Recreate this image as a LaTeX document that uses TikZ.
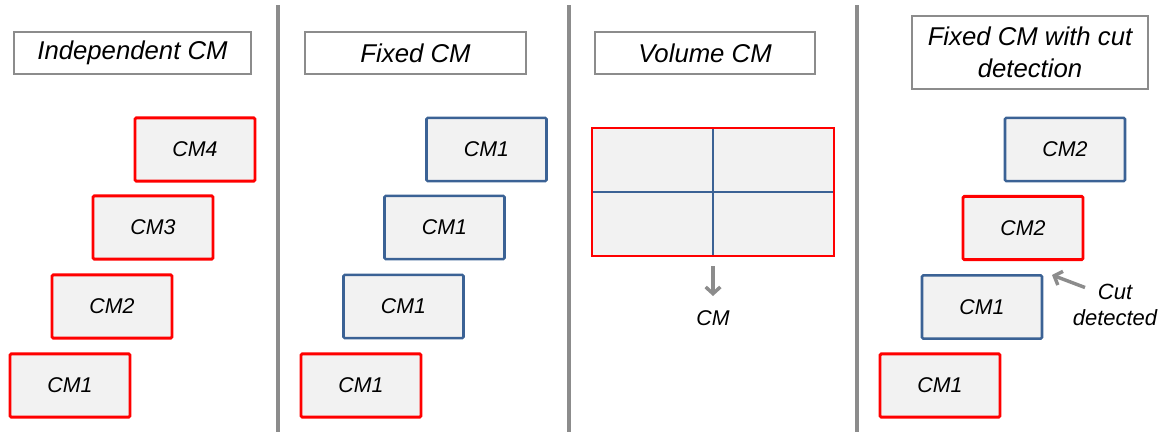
\documentclass[tikz,border=0pt]{standalone}
\usepackage{fontspec}
\setmainfont{Liberation Sans}
\usetikzlibrary{arrows.meta}
\definecolor{cmred}{HTML}{FF0000}
\definecolor{cmblue}{HTML}{3B6295}
\definecolor{cmfill}{HTML}{F2F2F2}
\definecolor{sepgray}{HTML}{8C8C8C}
\definecolor{titlegray}{HTML}{8C8C8C}
\begin{document}
\begin{tikzpicture}[x=0.75pt,y=-0.75pt,
  every node/.style={font=\fontsize{16}{19}\selectfont\itshape, inner sep=0pt, outer sep=0pt},
  cmbox/.style={draw, fill=cmfill, rounded corners=1pt, minimum width=90pt, minimum height=47.5pt},
  redbox/.style={cmbox, draw=cmred, line width=2.2pt},
  bluebox/.style={cmbox, draw=cmblue, line width=1.9pt},
  titlebox/.style={draw=titlegray, line width=1.1pt, fill=white, minimum height=31.5pt, align=center,
    font=\fontsize{19.3}{24}\selectfont\itshape},
  sep/.style={draw=sepgray, line width=2.7pt},
  grayarrow/.style={draw=sepgray, line width=2.6pt, -{Straight Barb[length=5pt,width=11pt,line width=2.6pt]}}
]
\useasboundingbox (0,0) rectangle (1175,432);
% separators
\coordinate (s1t) at (278,5); \coordinate (s1b) at (278,432);
\coordinate (s2t) at (569,5); \coordinate (s2b) at (569,432);
\coordinate (s3t) at (857,5); \coordinate (s3b) at (857,432);
\draw[sep] (s1t) -- (s1b);
\draw[sep] (s2t) -- (s2b);
\draw[sep] (s3t) -- (s3b);

% column 1
\node[titlebox, minimum width=177.75pt] (t1) at (132.5,53) {Independent CM};
\node[redbox] (a4) at (195,149.5) {CM4};
\node[redbox] (a3) at (153,227.5) {CM3};
\node[redbox] (a2) at (112,306.5) {CM2};
\node[redbox] (a1) at (70,385.5) {CM1};

% column 2
\node[titlebox, minimum width=165.75pt] (t2) at (415.5,53) {Fixed CM};
\node[bluebox] (b4) at (486.5,149.5) {CM1};
\node[bluebox] (b3) at (444.5,227.5) {CM1};
\node[bluebox] (b2) at (403.5,306.5) {CM1};
\node[redbox] (b1) at (361,385.5) {CM1};

% column 3
\node[titlebox, minimum width=165pt] (t3) at (705,53) {Volume CM};
\node[cmbox, draw=none, rounded corners=0pt, minimum width=181.5pt, minimum height=96pt] (vol) at (713,192) {};
\draw[cmblue, line width=1.9pt] (vol.north) -- (vol.south);
\draw[cmblue, line width=1.9pt] (vol.west) -- (vol.east);
\draw[cmred, line width=2.2pt] (vol.north west) rectangle (vol.south east);
\node (cm) at (713,318) {CM};
\coordinate (arrs) at (713,266);
\draw[grayarrow] (arrs) -- (713,296);

% column 4
\node[titlebox, minimum width=177pt, minimum height=54.75pt] (t4) at (1030,52.5) {Fixed CM with cut\\detection};
\node[bluebox] (d4) at (1065,149.5) {CM2};
\node[redbox] (d3) at (1023,228) {CM2};
\node[bluebox] (d2) at (982,307) {CM1};
\node[redbox] (d1) at (940,385.5) {CM1};
\node[align=center, font=\fontsize{16.5}{19.5}\selectfont\itshape] (cut) at (1115,305) {Cut\\detected};
\coordinate (cuts) at (1085,287.5);
\coordinate (cute) at (1052,275);
\draw[grayarrow] (cuts) -- (cute);
\end{tikzpicture}
\end{document}
